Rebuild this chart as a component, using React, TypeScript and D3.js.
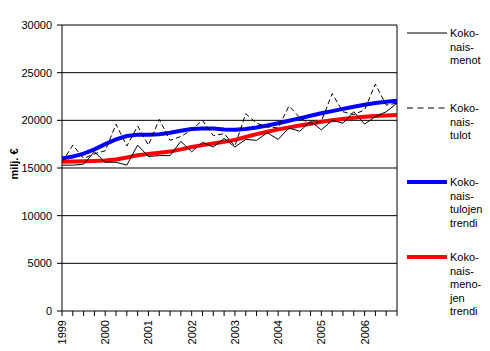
import React from "react";
import * as d3 from "d3";

const quarters = d3.range(32);
const yearLabels = ["1999", "2000", "2001", "2002", "2003", "2004", "2005", "2006"];
const yTicks = [0, 5000, 10000, 15000, 20000, 25000, 30000];

const menot = [
  15300, 15300, 15400, 16700, 15600, 15600, 15300, 17400,
  16200, 16300, 16300, 17800, 16700, 17700, 17200, 18100,
  17200, 18000, 17900, 18700, 18000, 19200, 18850, 19900,
  19000, 20000, 19700, 20900, 19600, 20400, 20900, 21800,
];
const tulot = [
  15600, 17400, 16000, 16500, 16800, 19600, 17300, 19400,
  17400, 20100, 17900, 18300, 19000, 20000, 18400, 18600,
  17300, 20700, 19700, 19300, 19200, 21500, 20300, 19600,
  19900, 22800, 20900, 20600, 21100, 23800, 21600, 21800,
];
const tulotTrend = [
  16000, 16200, 16500, 16950, 17500, 18000, 18350, 18500,
  18500, 18550, 18700, 18900, 19100, 19150, 19150, 19050,
  19000, 19100, 19250, 19450, 19700, 19950, 20200, 20480,
  20740, 20970, 21200, 21420, 21630, 21820, 21960, 22060,
];
const menotTrend = [
  15650, 15680, 15700, 15730, 15780, 15900, 16100, 16330,
  16480, 16600, 16720, 16950, 17200, 17400, 17580, 17760,
  17950, 18250, 18550, 18800, 19050, 19250, 19450, 19650,
  19850, 20000, 20150, 20280, 20370, 20450, 20510, 20560,
];

const legendItems = [
  { lines: ["Koko-", "nais-", "menot"], color: "#000", width: 1, dash: "", y: 33 },
  { lines: ["Koko-", "nais-", "tulot"], color: "#000", width: 1, dash: "6,4.5", y: 108 },
  { lines: ["Koko-", "nais-", "tulojen", "trendi"], color: "#0000FF", width: 4, dash: "", y: 182 },
  { lines: ["Koko-", "nais-", "meno-", "jen", "trendi"], color: "#FF0000", width: 4, dash: "", y: 257 },
];

const FONT = "Arial, 'Liberation Sans', sans-serif";

export default function App() {
  const left = 62, right = 397, top = 25, bottom = 311;
  const x = d3.scalePoint<number>().domain(quarters).range([left, right]);
  const y = d3.scaleLinear().domain([0, 30000]).range([bottom, top]);
  const line = (vals: number[]) =>
    d3.line<number>().x((_, i) => x(i) as number).y((v) => y(v))(vals) || "";

  return (
    <svg
      width={490}
      height={351}
      style={{ position: "absolute", left: 0, top: 0, background: "#fff" }}
      fontFamily={FONT}
    >
      <rect x={0} y={0} width={490} height={351} fill="#fff" />
      {yTicks.map((t) => (
        <g key={t}>
          {t > 0 && (
            <line x1={left} x2={right} y1={y(t)} y2={y(t)} stroke="#000" strokeWidth={1} />
          )}
          <line x1={left - 5} x2={left} y1={y(t)} y2={y(t)} stroke="#000" strokeWidth={1} />
          <text x={52} y={y(t) + 4} fontSize={11} textAnchor="end" fill="#000">
            {t}
          </text>
        </g>
      ))}
      <line x1={left} x2={left} y1={top} y2={bottom} stroke="#000" strokeWidth={1} />
      <line x1={right} x2={right} y1={top} y2={bottom} stroke="#000" strokeWidth={1} />
      <line x1={left} x2={right} y1={bottom} y2={bottom} stroke="#000" strokeWidth={1} />
      {quarters.map((q) => (
        <line key={q} x1={x(q)} x2={x(q)} y1={bottom} y2={bottom + 5} stroke="#000" strokeWidth={1} />
      ))}
      {yearLabels.map((lab, i) => {
        const xx = x(i * 4) as number;
        return (
          <text
            key={lab}
            transform={`translate(${xx + 4},${320}) rotate(-90)`}
            fontSize={11}
            textAnchor="end"
            fill="#000"
          >
            {lab}
          </text>
        );
      })}
      <text
        transform={`translate(18,164) rotate(-90)`}
        fontSize={11}
        fontWeight="bold"
        textAnchor="middle"
        fill="#000"
      >
        milj. €
      </text>

      <path d={line(tulotTrend)} fill="none" stroke="#0000FF" strokeWidth={4} />
      <path d={line(menotTrend)} fill="none" stroke="#FF0000" strokeWidth={4} />
      <path d={line(menot)} fill="none" stroke="#000" strokeWidth={1} />
      <path d={line(tulot)} fill="none" stroke="#000" strokeWidth={1} strokeDasharray="5,3" />

      {legendItems.map((it, k) => (
        <g key={k}>
          <line
            x1={407}
            x2={447}
            y1={it.y}
            y2={it.y}
            stroke={it.color}
            strokeWidth={it.width}
            strokeDasharray={it.dash || undefined}
          />
          {it.lines.map((l, j) => (
            <text key={j} x={450} y={it.y + 4 + j * 13.5} fontSize={11} fill="#000">
              {l}
            </text>
          ))}
        </g>
      ))}
    </svg>
  );
}
